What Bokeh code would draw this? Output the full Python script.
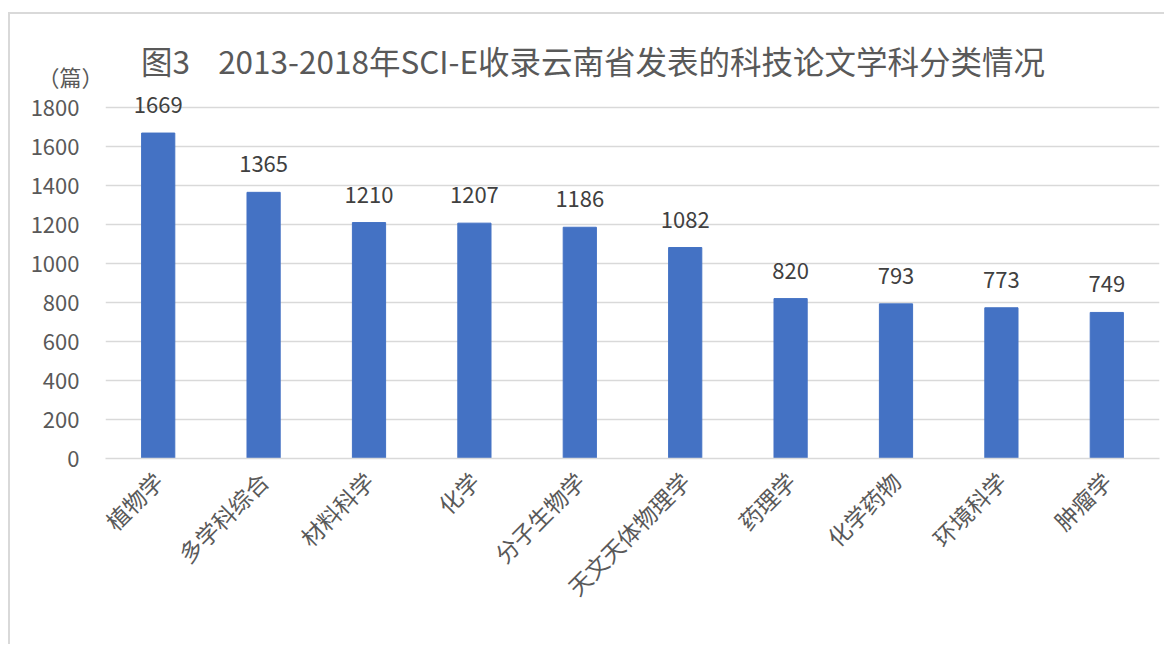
import math
from bokeh.plotting import figure
from bokeh.models import ColumnDataSource, Label, LabelSet, FixedTicker, LinearAxis
from bokeh.core.properties import value
from bokeh.embed import file_html
from bokeh.resources import INLINE

categories = ["植物学", "多学科综合", "材料科学", "化学", "分子生物学",
              "天文天体物理学", "药理学", "化学药物", "环境科学", "肿瘤学"]
values = [1669, 1365, 1210, 1207, 1186, 1082, 820, 793, 773, 749]
y_ticks = [0, 200, 400, 600, 800, 1000, 1200, 1400, 1600, 1800]
title_text = "图3\u00a0\u00a0\u00a0\u00a02013-2018年SCI-E收录云南省发表的科技论文学科分类情况"
unit_text = "（篇）"

FONT = "Noto Sans CJK SC"
GRAY = "#595959"

src = ColumnDataSource(dict(cat=categories, val=values, lab=[str(v) for v in values]))

# frame extends to the top so the title can sit inside it; gridlines only at y_ticks
p = figure(x_range=categories, y_range=(0, 2277), width=1156, height=632,
           output_backend="svg", toolbar_location=None,
           min_border_left=95, min_border_right=7, min_border_top=0, min_border_bottom=188)
p.margin = (12, 0, 0, 8)
p.styles = {"border-top": "2px solid #d9d9d9", "border-left": "2px solid #d9d9d9"}
p.outline_line_color = None
p.background_fill_color = "white"
p.border_fill_color = "white"

p.vbar(x="cat", top="val", width=0.315, source=src, color="#4472C4")

p.add_layout(LabelSet(x="cat", y="val", text="lab", source=src, text_align="center",
                      text_baseline="middle", y_offset=28, text_font=value(FONT),
                      text_font_size="22px", text_color="#404040"))

p.xgrid.grid_line_color = None
p.ygrid.ticker = FixedTicker(ticks=y_ticks)
p.ygrid.grid_line_color = "#d9d9d9"
p.ygrid.grid_line_width = 1.5
p.yaxis.ticker = FixedTicker(ticks=y_ticks)
p.yaxis.axis_line_color = None
p.yaxis.major_tick_line_color = None
p.yaxis.minor_tick_line_color = None
p.yaxis.major_label_standoff = 20
p.yaxis.major_label_text_font = FONT
p.yaxis.major_label_text_font_size = "22px"
p.yaxis.major_label_text_color = GRAY

# unit label "（篇）" above the top tick label, via a second (label-only) axis
unit_pos = 1962
unit_axis = LinearAxis(ticker=FixedTicker(ticks=[unit_pos]),
                       major_label_overrides={unit_pos: unit_text},
                       axis_line_color=None, major_tick_line_color=None,
                       minor_tick_line_color=None, major_label_standoff=-82,
                       major_label_text_font=FONT, major_label_text_font_size="22px",
                       major_label_text_color=GRAY)
p.add_layout(unit_axis, "left")

p.xaxis.axis_line_color = "#d9d9d9"
p.xaxis.axis_line_width = 1.5
p.xaxis.major_tick_line_color = None
p.xaxis.minor_tick_line_color = None
p.xaxis.major_label_orientation = math.pi / 4
p.xaxis.major_label_standoff = 12
p.xaxis.major_label_text_font = FONT
p.xaxis.major_label_text_font_size = "23px"
p.xaxis.major_label_text_color = GRAY

p.add_layout(Label(x=4.625, y=2046, text=title_text, text_align="center", text_baseline="middle",
                   text_font=FONT, text_font_size="31.5px", text_color=GRAY))

open("out.html", "w").write(file_html(p, INLINE))
